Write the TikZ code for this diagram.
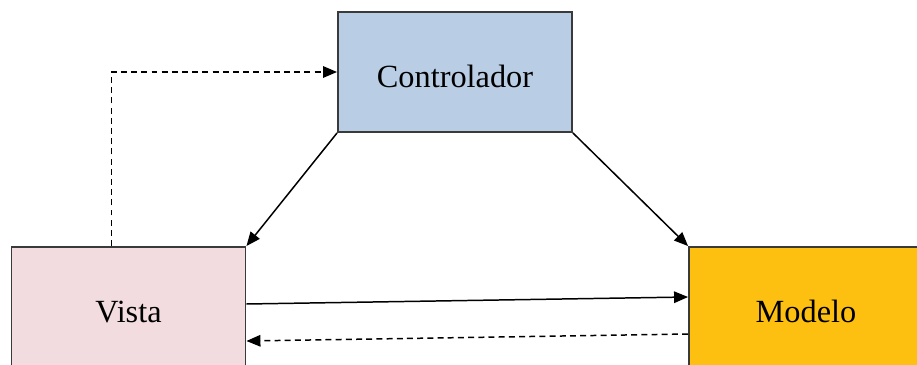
\documentclass[tikz,border=0pt]{standalone}
\usepackage{fontspec}
\setmainfont{Liberation Serif}
\usepackage{tikz}
\usetikzlibrary{positioning,calc}
\usetikzlibrary{arrows.meta}
\definecolor{ctrlblue}{HTML}{B9CDE5}
\definecolor{vistapink}{HTML}{F2DCDF}
\definecolor{modelgold}{HTML}{FDC010}
\definecolor{boxline}{HTML}{3A3A3A}
\tikzstyle{arrow} = [line width=0.85pt,-{Triangle[length=2.8mm,width=2.3mm]}]
\tikzstyle{dasharrow} = [arrow,dash pattern=on 3.4pt off 2.4pt]

\begin{document}
\begin{tikzpicture}[x=0.02cm,y=-0.02cm,
	box/.style={rectangle, draw=boxline, line width=1.1pt, minimum width=4.68cm, minimum height=2.4cm, align=center, text height=18pt, text depth=0pt, font=\fontsize{18.4}{22}\selectfont}]
	\useasboundingbox (0,0) rectangle (917,365);
	
	% MODULES
	
	\node [box, fill=ctrlblue] (controlador) at (455,72) {Controlador};
	\node [box, fill=vistapink] (vista) at (128.5,307) {Vista};
	\node [box, fill=modelgold] (modelo) at (806,307) {Modelo};
	
	% CONNECTIONS
	
	\draw [arrow] (controlador.south west) -- (vista.north east);
	\draw [arrow] (controlador.south east) -- (modelo.north west);
	\draw [arrow] ($(vista.east)+(0,-3)$) -- ($(modelo.west)+(0,-10)$);
	\draw [dasharrow] ($(modelo.west)+(0,27)$) -- ($(vista.east)+(0,34)$);
	\draw [dasharrow] ($(vista.north west)+(101,0)$) |- (controlador.west);
	
\end{tikzpicture}
\end{document}
